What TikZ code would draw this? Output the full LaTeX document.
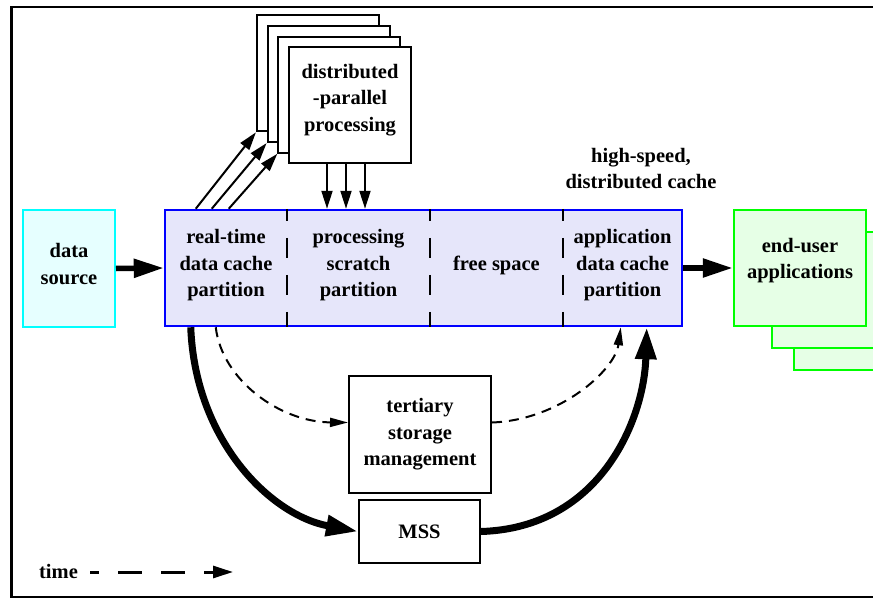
\documentclass[tikz,border=0pt]{standalone}
\usepackage{fontspec}
\setmainfont{Liberation Serif}
\usetikzlibrary{arrows.meta}
\definecolor{srcline}{RGB}{0,255,255}
\definecolor{srcfill}{RGB}{230,255,255}
\definecolor{cacheline}{RGB}{0,0,255}
\definecolor{cachefill}{RGB}{230,230,250}
\definecolor{appline}{RGB}{0,255,0}
\definecolor{appfill}{RGB}{230,255,230}

\begin{document}
\begin{tikzpicture}[x=1pt,y=-1pt,
  every node/.style={font=\fontsize{20.5}{26.5}\selectfont\bfseries,
    align=center, inner sep=0pt},
  plainbox/.style={draw=black, line width=2pt, fill=white},
  srcbox/.style={draw=srcline, line width=2pt, fill=srcfill},
  cachebox/.style={draw=cacheline, line width=2.5pt, fill=cachefill},
  appbox/.style={draw=appline, line width=2.5pt, fill=appfill},
  divider/.style={line width=2.5pt, dash pattern=on 20pt off 17pt, dash phase=8pt},
  bigarrow/.style={line width=5.5pt, -{Triangle[length=30pt,width=18pt]}},
  curvearrow/.style={line width=7pt, -{Triangle[length=32pt,width=20pt]}},
  thinarrow/.style={line width=2pt, -{Triangle[length=18pt,width=11pt]}},
  dasharrow/.style={line width=2pt, dash pattern=on 10pt off 7pt,
    -{Triangle[length=18pt,width=9pt]}},
  timearrow/.style={line width=3pt, dash pattern=on 24pt off 19pt, dash phase=15pt,
    -{Triangle[length=20pt,width=12pt]}}]

\useasboundingbox (0,0) rectangle (873,599);
\clip (0,0) rectangle (873,599);

% outer frame (its right side lies past the page edge)
\draw[line width=2.5pt] (900,7) -- (11.5,7) -- (11.5,597) -- (900,597);

% data source
\node[srcbox, minimum width=92pt, minimum height=117pt] (src) at (69,268.5) {};
\node (srctxt) at (69,264) {data\\source};

% high-speed distributed cache and its partitions
\node[cachebox, minimum width=517pt, minimum height=116pt] (cache) at (423.5,268) {};
\node[minimum width=122pt] (part1) at (226,265.5) {real-time\\data cache\\partition};
\node[minimum width=143pt] (part2) at (358.5,265.5) {processing\\scratch\\partition};
\node[minimum width=133pt] (part3) at (496.5,265.5) {free space};
\node[minimum width=119pt] (part4) at (622.5,265.5) {application\\data cache\\partition};
\draw[divider] (part1.east |- cache.north) -- (part1.east |- cache.south);
\draw[divider] (part2.east |- cache.north) -- (part2.east |- cache.south);
\draw[divider] (part3.east |- cache.north) -- (part3.east |- cache.south);
\node (cachelbl) at (641,168.5) {high-speed,\\distributed cache};

% stack of processing nodes
\node[plainbox, minimum width=122pt, minimum height=116pt] (proc3) at (317.9,73.4) {};
\node[plainbox, minimum width=122pt, minimum height=116pt] (proc2) at (328.6,84.1) {};
\node[plainbox, minimum width=122pt, minimum height=116pt] (proc1) at (339.3,94.8) {};
\node[plainbox, minimum width=122pt, minimum height=116pt] (proc) at (350,105.5) {};
\node (proctxt) at (350,100) {distributed\\-parallel\\processing};

\draw[thinarrow] ([xshift=32pt]cache.north west) -- (proc3.south west);
\draw[thinarrow] ([xshift=48pt]cache.north west) -- (proc2.south west);
\draw[thinarrow] ([xshift=65pt]cache.north west) -- (proc1.south west);
\draw[thinarrow] ([xshift=-23pt]proc.south) -- ([xshift=-23pt]proc.south |- cache.north);
\draw[thinarrow] ([xshift=-4pt]proc.south) -- ([xshift=-4pt]proc.south |- cache.north);
\draw[thinarrow] ([xshift=15pt]proc.south) -- ([xshift=15pt]proc.south |- cache.north);

% end-user applications (stacked)
\node[appbox, minimum width=132pt, minimum height=116pt] (app3) at (860,312) {};
\node[appbox, minimum width=132pt, minimum height=116pt] (app2) at (838,290) {};
\node[appbox, minimum width=132pt, minimum height=116pt] (app) at (800,268) {};
\node (apptxt) at (800,260.5) {end-user\\applications};

\draw[bigarrow] (src.east) -- (cache.west);
\draw[bigarrow] (cache.east) -- (app.west);

% storage hierarchy below the cache
\node[plainbox, minimum width=142pt, minimum height=117pt] (tert) at (420,434.5)
  {tertiary\\storage\\management};
\node[plainbox, minimum width=121pt, minimum height=63pt] (mss) at (419.5,531.5) {MSS};

\draw[curvearrow] ([xshift=27pt]cache.south west)
  .. controls (195,440) and (270,515) .. (mss.west);
\draw[curvearrow] (mss.east)
  .. controls (600,528) and (644,420) .. ([xshift=483pt]cache.south west);
\draw[dasharrow] ([xshift=52pt]cache.south west)
  .. controls (222,380) and (280,422) .. ([yshift=12pt]tert.west);
\draw[dasharrow] ([yshift=12pt]tert.east)
  .. controls (560,420) and (615,370) .. ([xshift=457pt]cache.south west);

% time legend
\node[anchor=base] (timelbl) at (58.5,578) {time};
\coordinate (timeend) at (233,572);
\draw[timearrow] ([xshift=12pt]timelbl.east |- timeend) -- (timeend);
\end{tikzpicture}
\end{document}
